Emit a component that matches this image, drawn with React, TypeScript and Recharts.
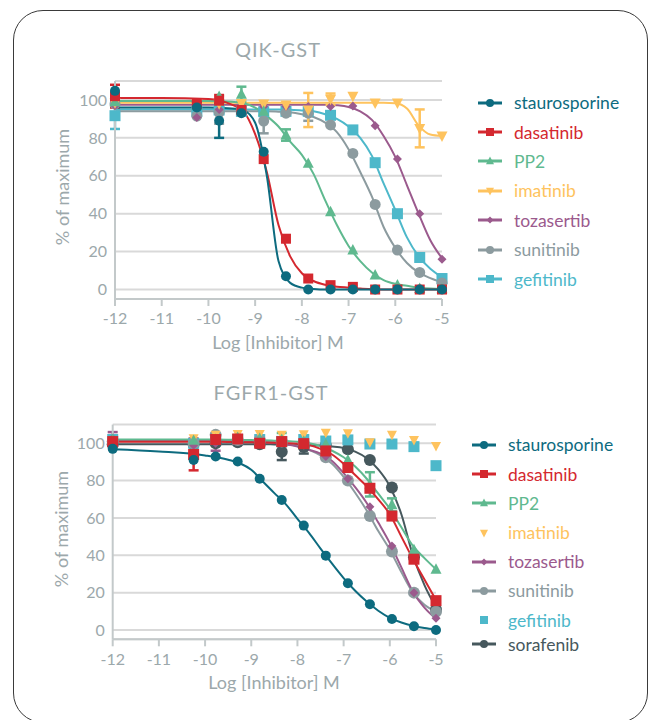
import React from "react";
import {
  ComposedChart,
  Line,
  Scatter,
  XAxis,
  YAxis,
  CartesianGrid,
  ErrorBar,
} from "recharts";

// log10 of inhibitor concentration (3-fold dilutions, -12 = no inhibitor)
const CONC = [-12, -10.248, -9.771, -9.294, -8.817, -8.34, -7.863, -7.386, -6.908, -6.431, -5.954, -5.477, -5];
const CURVE_X = [-12, -11, -10, -9.5, -9.25, -9, -8.75, -8.5, -8.25, -8, -7.75, -7.5, -7.25, -7, -6.75, -6.5, -6.25, -6, -5.75, -5.5, -5.25, -5];
const X_TICKS = [-12, -11, -10, -9, -8, -7, -6, -5];
const Y_TICKS = [0, 20, 40, 60, 80, 100];

// ---- QIK-GST ----
const QIK_STAU = [104.8, 96, 89, 93, 72.7, 7, 0, 0, 0, 0, 0, 0, 0];
const QIK_STAU_ERR = [0, 3, 9, 0, 0, 0, 0, 0, 0, 0, 0, 0, 0];
const QIK_STAU_FIT = [96, 96, 96, 95.5, 94.5, 88, 60, 15, 3.5, 1, 0.3, 0, 0, 0, 0, 0, 0, 0, 0, 0, 0, 0];

const QIK_DASA = [102, 98, 99.6, 94.7, 68.8, 26.8, 5.8, 2.3, 1.4, 0, 0, 0, 0];
const QIK_DASA_ERR = [6, 0, 3, 0, 0, 0, 0, 0, 0, 0, 0, 0, 0];
const QIK_DASA_FIT = [101, 101, 100.5, 97.5, 94, 82, 62, 34, 17.5, 8.6, 4.5, 2.5, 1.5, 1, 0.5, 0.2, 0, 0, 0, 0, 0, 0];

const QIK_PP2 = [99, 97, 101.8, 103, 94, 81.5, 66.5, 41, 20.8, 7.6, 2.3, 0.5, 0.3];
const QIK_PP2_ERR = [0, 0, 0, 4, 0, 3, 0, 0, 0, 0, 0, 0, 0];
const QIK_PP2_FIT = [99.5, 99.5, 99.5, 99, 98.3, 96, 91.5, 86, 78, 71, 61, 47, 34, 23, 15, 9, 5, 3, 2, 1, 0.5, 0.3];

const QIK_IMAT = [98.5, 98, 98, 98.2, 97.9, 97.4, 94.7, 100.4, 102, 98.4, 98.4, 85, 81];
const QIK_IMAT_ERR = [0, 0, 0, 0, 0, 0, 9, 3, 0, 0, 0, 10, 0];
const QIK_IMAT_FIT = [98.5, 98.5, 98.5, 98.5, 98.5, 98.5, 98.5, 98.5, 98.5, 98.5, 98.5, 98.5, 98.5, 98.5, 98.5, 98.5, 98.5, 98.3, 95.5, 86.5, 81.8, 81];

const QIK_TOZA = [97, 90.7, 95, 96, 96.5, 96.5, 96.5, 96.5, 96.8, 86.4, 68.8, 40, 16];
const QIK_TOZA_FIT = [97.5, 97.5, 97.5, 97.5, 97.5, 97.5, 97.5, 97.5, 97.5, 97.5, 97.5, 97.5, 97.2, 96.3, 94, 89.5, 81, 70, 55, 40, 26, 16.5];

const QIK_SUNI = [97.9, 91.5, 93.5, 94, 88.9, 93, 93, 86.8, 71.8, 44.9, 20.8, 9, 3.5];
const QIK_SUNI_ERR = [0, 0, 6, 0, 6.5, 0, 4, 0, 0, 0, 0, 0, 0];
const QIK_SUNI_FIT = [94, 94, 94, 94, 94, 94, 94, 93.8, 93.5, 92.5, 91, 88, 83, 74, 62, 49, 33, 22, 14, 9, 6, 3.8];

const QIK_GEFI = [91.7, 94, 94.7, 94, 93.8, 94, 94, 91.9, 84.2, 66.9, 40, 16.9, 5.8];
const QIK_GEFI_ERR = [7, 0, 0, 0, 0, 0, 0, 0, 0, 0, 0, 0, 0];
const QIK_GEFI_FIT = [95, 95, 95, 95, 95, 95, 95, 95, 94.8, 94.5, 94, 92.5, 90, 86, 80, 70.5, 56, 42, 27.5, 17.5, 11, 6.5];

// ---- FGFR1-GST ----
const FG_STAU = [97, 91, 92.9, 90.2, 81, 69.6, 55.9, 39.8, 25, 13.75, 5.9, 2, 0];
const FG_STAU_FIT = [96.8, 95.6, 93.5, 91.2, 89.3, 85.8, 79.5, 73.3, 67.3, 59.5, 52, 43.6, 35.5, 27.8, 21, 15.2, 10.3, 6.5, 4, 2.2, 1, 0.2];

const FG_DASA = [100.9, 94, 102, 102.3, 100, 100.9, 99.8, 95.9, 87, 75.9, 61, 37.9, 15.7];
const FG_DASA_ERR = [0, 8.5, 0, 0, 0, 0, 0, 0, 0, 0, 0, 0, 0];
const FG_DASA_FIT = [100.8, 100.8, 100.8, 100.7, 100.6, 100.5, 100.4, 100.3, 100.1, 99.8, 99, 97, 94, 89, 83, 77, 70, 62, 50, 38, 27, 16];

const FG_PP2 = [102, 101.5, 102, 103, 102.5, 102, 101, 99.5, 91, 78, 67, 43, 32.5];
const FG_PP2_ERR = [0, 0, 0, 0, 0, 3.5, 0, 0, 0, 6.5, 3.5, 0, 0];
const FG_PP2_FIT = [102, 102, 102, 101.9, 101.8, 101.7, 101.6, 101.4, 101.2, 100.8, 100, 98.5, 96, 92.5, 87.5, 81, 73, 65, 55, 45, 38.5, 32.5];

const FG_IMAT = [101, 102.7, 104.5, 105, 105, 104.5, 104.8, 105.7, 105.4, 100.5, 104.5, 101.8, 98.6];

const FG_TOZA = [102.5, 99, 100, 102.7, 101.8, 101, 99.5, 92.9, 81, 66, 45, 20, 6.25];
const FG_TOZA_ERR = [3.5, 0, 4, 0, 0, 0, 0, 0, 0, 0, 0, 0, 0];
const FG_TOZA_FIT = [101.5, 101.5, 101.4, 101.3, 101.2, 101, 100.7, 100.2, 99.5, 98.3, 96.5, 94.5, 90.5, 84, 76.5, 68, 57.5, 46.5, 33.5, 20.5, 12, 6];

const FG_SUNI = [101, 100, 104.5, 101.8, 101.5, 101, 100, 92.5, 80, 61, 42, 20, 9.8];
const FG_SUNI_FIT = [101.8, 101.8, 101.7, 101.6, 101.5, 101.3, 101, 100.5, 99.8, 98.5, 96.5, 93.5, 89, 82, 73.5, 64, 53, 43, 31, 20, 13.5, 9.8];

const FG_GEFI = [102, 100, 102, 102, 102, 101, 102, 101.2, 101.8, 99.6, 99.6, 98.2, 88];

const FG_SORA = [99.5, 99.5, 100, 100.5, 99.5, 95.5, 98, 99, 96.8, 91, 76.25, 39, 11];
const FG_SORA_ERR = [0, 0, 0, 0, 0, 4.5, 3.5, 0, 0, 0, 0, 0, 0];
const FG_SORA_FIT = [99.5, 99.5, 99.5, 99.5, 99.5, 99.5, 99.5, 99.4, 99.3, 99.2, 99, 98.8, 98.3, 97.5, 95.5, 92, 86, 77, 62, 40, 24, 12];

const FONT = "Lato, 'Open Sans', sans-serif";
const AXIS_TEXT = "#9ca8ab";
const AXIS_LINE = "#c3c9ca";
const GRID = "#d9d9d9";

const COLORS = {
  stau: "#0d6b7f",
  dasa: "#d4282f",
  pp2: "#5fb98f",
  imat: "#fec35e",
  toza: "#9b5a8d",
  suni: "#8c9b9f",
  gefi: "#4db8ca",
  sora: "#46585d",
};

type Kind = "circle" | "square" | "up" | "down" | "diamond";

interface Series {
  key: string;
  name: string;
  color: string;
  kind: Kind;
  size: number;
  pts: number[];
  err?: number[];
  fit?: number[];
}

const QIK: Series[] = [
  { key: "stau", name: "staurosporine", color: COLORS.stau, kind: "circle", size: 5, pts: QIK_STAU, err: QIK_STAU_ERR, fit: QIK_STAU_FIT },
  { key: "dasa", name: "dasatinib", color: COLORS.dasa, kind: "square", size: 5, pts: QIK_DASA, err: QIK_DASA_ERR, fit: QIK_DASA_FIT },
  { key: "pp2", name: "PP2", color: COLORS.pp2, kind: "up", size: 5.5, pts: QIK_PP2, err: QIK_PP2_ERR, fit: QIK_PP2_FIT },
  { key: "imat", name: "imatinib", color: COLORS.imat, kind: "down", size: 5.5, pts: QIK_IMAT, err: QIK_IMAT_ERR, fit: QIK_IMAT_FIT },
  { key: "toza", name: "tozasertib", color: COLORS.toza, kind: "diamond", size: 4.5, pts: QIK_TOZA, fit: QIK_TOZA_FIT },
  { key: "suni", name: "sunitinib", color: COLORS.suni, kind: "circle", size: 5.5, pts: QIK_SUNI, err: QIK_SUNI_ERR, fit: QIK_SUNI_FIT },
  { key: "gefi", name: "gefitinib", color: COLORS.gefi, kind: "square", size: 5.5, pts: QIK_GEFI, err: QIK_GEFI_ERR, fit: QIK_GEFI_FIT },
];

const FGFR: Series[] = [
  { key: "stau", name: "staurosporine", color: COLORS.stau, kind: "circle", size: 5, pts: FG_STAU, fit: FG_STAU_FIT },
  { key: "dasa", name: "dasatinib", color: COLORS.dasa, kind: "square", size: 5.5, pts: FG_DASA, err: FG_DASA_ERR, fit: FG_DASA_FIT },
  { key: "pp2", name: "PP2", color: COLORS.pp2, kind: "up", size: 5.5, pts: FG_PP2, err: FG_PP2_ERR, fit: FG_PP2_FIT },
  { key: "imat", name: "imatinib", color: COLORS.imat, kind: "down", size: 5, pts: FG_IMAT },
  { key: "toza", name: "tozasertib", color: COLORS.toza, kind: "diamond", size: 4.5, pts: FG_TOZA, err: FG_TOZA_ERR, fit: FG_TOZA_FIT },
  { key: "suni", name: "sunitinib", color: COLORS.suni, kind: "circle", size: 6, pts: FG_SUNI, fit: FG_SUNI_FIT },
  { key: "gefi", name: "gefitinib", color: COLORS.gefi, kind: "square", size: 5.5, pts: FG_GEFI },
  { key: "sora", name: "sorafenib", color: COLORS.sora, kind: "circle", size: 6, pts: FG_SORA, err: FG_SORA_ERR, fit: FG_SORA_FIT },
];

function mark(kind: Kind, cx: number, cy: number, s: number, color: string) {
  switch (kind) {
    case "circle":
      return <circle cx={cx} cy={cy} r={s} fill={color} />;
    case "square":
      return <rect x={cx - s} y={cy - s} width={s * 2} height={s * 2} fill={color} />;
    case "up":
      return <polygon points={`${cx},${cy - s * 1.1} ${cx + s},${cy + s * 0.8} ${cx - s},${cy + s * 0.8}`} fill={color} />;
    case "down":
      return <polygon points={`${cx},${cy + s * 1.1} ${cx + s},${cy - s * 0.8} ${cx - s},${cy - s * 0.8}`} fill={color} />;
    default:
      return <polygon points={`${cx},${cy - s} ${cx + s},${cy} ${cx},${cy + s} ${cx - s},${cy}`} fill={color} />;
  }
}

function Panel({ series, width, height, margin }: { series: Series[]; width: number; height: number; margin: any }) {
  const rows = CURVE_X.map((x, i) => {
    const r: any = { x };
    series.forEach((s) => {
      if (s.fit) r[s.key] = s.fit[i];
    });
    return r;
  });
  const layers = [...series].reverse();

  return (
    <ComposedChart width={width} height={height} data={rows} margin={margin}>
      <CartesianGrid vertical={false} stroke={GRID} strokeWidth={2} />
      <XAxis
        dataKey="x"
        type="number"
        domain={[-12, -5]}
        ticks={X_TICKS}
        height={40}
        axisLine={{ stroke: AXIS_LINE, strokeWidth: 2 }}
        tickLine={{ stroke: AXIS_LINE, strokeWidth: 2 }}
        tickSize={7}
        tickMargin={7}
        tick={{ fill: AXIS_TEXT, fontSize: 16, fontFamily: FONT }}
      />
      <YAxis
        type="number"
        domain={[-5, 110]}
        ticks={Y_TICKS}
        width={50}
        axisLine={{ stroke: AXIS_LINE, strokeWidth: 2 }}
        tickLine={false}
        tickSize={0}
        tickMargin={8}
        tick={{ fill: AXIS_TEXT, fontSize: 16, fontFamily: FONT }}
      />
      {layers.flatMap((s) => {
        const out: any[] = [];
        if (s.fit) {
          out.push(
            <Line
              key={s.key + "-fit"}
              dataKey={s.key}
              type="monotone"
              stroke={s.color}
              strokeWidth={2}
              dot={false}
              activeDot={false}
              isAnimationActive={false}
            />
          );
        }
        out.push(
          <Scatter
            key={s.key + "-pts"}
            data={CONC.map((x, i) => ({ x, y: s.pts[i], err: s.err ? s.err[i] : 0 }))}
            dataKey="y"
            fill={s.color}
            isAnimationActive={false}
            shape={(p: any) => mark(s.kind, p.cx, p.cy, s.size, s.color)}
          >
            {s.err && <ErrorBar dataKey="err" direction="y" width={5} strokeWidth={2.5} stroke={s.color} />}
          </Scatter>
        );
        return out;
      })}
    </ComposedChart>
  );
}

function LegendIcon({ s }: { s: Series }) {
  return (
    <svg width={26} height={14} style={{ display: "block" }}>
      {s.fit && <line x1={1} y1={7} x2={25} y2={7} stroke={s.color} strokeWidth={3} />}
      {mark(s.kind, 13, 7, s.kind === "diamond" ? 3.5 : 4, s.color)}
    </svg>
  );
}

function SeriesLegend({ series, left, top, rowH, lastShift }: { series: Series[]; left: number; top: number; rowH: number; lastShift: number }) {
  return (
    <div style={{ position: "absolute", left, top }}>
      {series.map((s, i) => (
        <div
          key={s.key}
          style={{
            display: "flex",
            alignItems: "center",
            height: rowH,
            marginTop: i === series.length - 1 ? lastShift : 0,
          }}
        >
          <LegendIcon s={s} />
          <span style={{ marginLeft: 11, color: s.color, fontSize: 17.5, fontFamily: FONT, whiteSpace: "nowrap" }}>{s.name}</span>
        </div>
      ))}
    </div>
  );
}

const textStyle = { position: "absolute" as const, color: AXIS_TEXT, fontFamily: FONT, textAlign: "center" as const, whiteSpace: "nowrap" as const };

function Title({ text, cx, top }: { text: string; cx: number; top: number }) {
  return <div style={{ ...textStyle, left: cx - 100, width: 200, top, fontSize: 20, lineHeight: "24px", letterSpacing: 1 }}>{text}</div>;
}

function XTitle({ cx, top }: { cx: number; top: number }) {
  return <div style={{ ...textStyle, left: cx - 100, width: 200, top, fontSize: 18, lineHeight: "22px" }}>Log [Inhibitor] M</div>;
}

function YTitle({ cx, cy }: { cx: number; cy: number }) {
  return (
    <div style={{ ...textStyle, left: cx - 80, width: 160, top: cy - 11, fontSize: 18, lineHeight: "22px", transform: "rotate(-90deg)" }}>
      % of maximum
    </div>
  );
}

export default function App() {
  return (
    <div style={{ position: "absolute", left: 0, top: 0, width: 649, height: 720, overflow: "hidden", background: "#fff", fontFamily: FONT }}>
      <div
        style={{
          position: "absolute",
          left: 13,
          top: 10,
          width: 635,
          height: 713,
          border: "1.3px solid #3a3a3a",
          borderRadius: 30,
          boxSizing: "border-box",
        }}
      />

      <div style={{ position: "absolute", left: 0, top: 0 }}>
        <Panel series={QIK} width={470} height={360} margin={{ top: 81, right: 28, bottom: 21, left: 65 }} />
      </div>
      <Title text="QIK-GST" cx={278} top={37} />
      <XTitle cx={278} top={331} />
      <YTitle cx={62} cy={187} />
      <SeriesLegend series={QIK} left={477} top={88} rowH={29.4} lastShift={0} />

      <div style={{ position: "absolute", left: 0, top: 340 }}>
        <Panel series={FGFR} width={470} height={380} margin={{ top: 84.6, right: 34, bottom: 40.7, left: 62.7 }} />
      </div>
      <Title text="FGFR1-GST" cx={271} top={380} />
      <XTitle cx={274} top={671} />
      <YTitle cx={61} cy={529} />
      <SeriesLegend series={FGFR} left={471} top={430.4} rowH={29.2} lastShift={-5} />
    </div>
  );
}
